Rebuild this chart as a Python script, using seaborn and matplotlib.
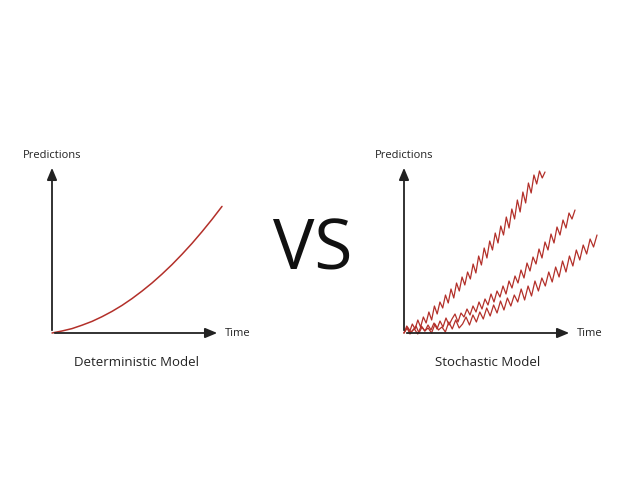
import numpy as np
import seaborn as sns
import matplotlib.pyplot as plt

sns.set_theme(style="white")
plt.rcParams['font.family'] = ['Open Sans', 'DejaVu Sans']

# deterministic curve (pixel units above origin)
det_x = [0, 10, 20, 30, 40, 50, 60, 70, 80, 90, 100, 110, 120, 130, 140, 150, 160, 170]
det_y = [0, 2, 4.4, 7.8, 11.6, 16.3, 21.6, 27.6, 34.4, 41.9, 50, 58.9, 68.4, 78.7, 89.6, 101.3,
         113.6, 126.6]

# three stochastic runs
run_a = [0, 7, 1, 9, 4, 13, 6, 16, 10, 21, 13, 27, 19, 31, 25, 38, 30, 44, 35, 50, 42, 56, 48, 61,
         54, 69, 60, 77, 68, 85, 75, 92, 83, 100, 90, 107, 98, 116, 105, 124, 114, 133, 121, 141,
         130, 150, 140, 158, 149, 162, 155, 161]
run_b = [0, 5, -1, 3, 7, 0, 6, 2, 8, 3, 10, 4, 12, 6, 15, 8, 14, 19, 11, 20, 16, 24, 18, 27, 21, 31,
         24, 34, 28, 39, 31, 42, 36, 47, 39, 52, 45, 57, 50, 63, 55, 70, 62, 76, 69, 84, 75, 91, 83,
         99, 90, 106, 98, 113, 105, 120, 114, 123]
run_c = [0, 6, 1, 4, -1, 7, 2, 5, 0, 9, 3, 6, 1, 11, 4, 13, 5, 9, 16, 8, 18, 11, 21, 14, 25, 17, 28,
         20, 32, 23, 35, 27, 38, 31, 44, 33, 47, 37, 52, 42, 55, 47, 61, 51, 66, 56, 72, 61, 77, 67,
         83, 73, 88, 79, 94, 86, 98]
run_ends = [141, 171, 193]

W, H = 626, 501
fig = plt.figure(figsize=(W / 100, H / 100), dpi=100)
red = "#b3302a"


def panel(ox, label):
    ax = fig.add_axes([ox / W, (H - 333) / H, 180 / W, 185 / H])
    ax.set_xlim(0, 180)
    ax.set_ylim(0, 185)
    ax.axis("off")
    arrow = dict(arrowstyle="-|>,head_width=0.25,head_length=0.6", color="#222222", lw=1.3)
    ax.annotate("", xy=(0, 168), xytext=(0, 0), arrowprops=arrow, annotation_clip=False)
    ax.annotate("", xy=(168, 0), xytext=(0, 0), arrowprops=arrow, annotation_clip=False)
    ax.text(0, 177, "Predictions", fontsize=8, ha="center", va="center", color="#222222")
    ax.text(173, 0, "Time", fontsize=8, ha="left", va="center", color="#222222")
    ax.text(84, -29, label, fontsize=9.5, ha="center", va="center", color="#222222")
    return ax


ax1 = panel(52, "Deterministic Model")
sns.lineplot(x=det_x, y=det_y, ax=ax1, color=red, lw=1.1, clip_on=False)

ax2 = panel(404, "Stochastic Model")
for run, end in zip([run_a, run_b, run_c], run_ends):
    xs = np.linspace(0, end, len(run))
    sns.lineplot(x=xs, y=run, ax=ax2, color=red, lw=0.9, clip_on=False, sort=False)

fig.text(313 / W, 1 - 252 / H, "VS", fontsize=50, ha="center", va="center", color="#111111")

fig.savefig("out.png", dpi=100)
